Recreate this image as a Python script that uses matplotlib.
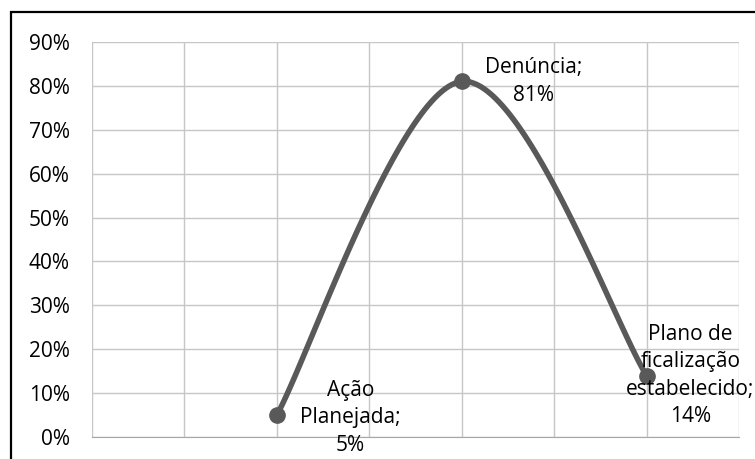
import matplotlib

matplotlib.use("Agg")
import matplotlib.pyplot as plt  # noqa: E402
import numpy as np  # noqa: E402
from matplotlib.patches import Rectangle  # noqa: E402

# dados
categorias = ["Ação\nPlanejada", "Denúncia", "Plano de\nficalização\nestabelecido"]
valores = [0.05, 0.81, 0.14]
posicoes_x = [2, 4, 6]
rotulos_y = ["0%", "10%", "20%", "30%", "40%", "50%", "60%", "70%", "80%", "90%"]

LINHA = "#595959"
GRADE = "#c6c6c6"
FONTE = "Open Sans"
TAM = 15

# deslocamento dos rotulos (pontos), so estilo
desloc = [(53, -2), (52, 0), (31.5, 0)]


def curva_suave(xs, ys, n=60):
    """Spline tipo Excel (Catmull-Rom em Bezier cubica)."""
    p = np.column_stack([xs, ys]).astype(float)
    pts = np.vstack([p[0], p, p[-1]])
    out = []
    t = np.linspace(0, 1, n)[:, None]
    for i in range(1, len(pts) - 2):
        p0, p1, p2, p3 = pts[i - 1], pts[i], pts[i + 1], pts[i + 2]
        c1 = p1 + (p2 - p0) / 6
        c2 = p2 - (p3 - p1) / 6
        seg = ((1 - t) ** 3) * p1 + 3 * ((1 - t) ** 2) * t * c1 \
            + 3 * (1 - t) * t ** 2 * c2 + t ** 3 * p2
        out.append(seg)
    return np.vstack(out)


fig = plt.figure(figsize=(7.55, 4.59), dpi=100)
fig.patch.set_facecolor("white")
ax = fig.add_axes([92 / 755, 22 / 459, 647 / 755, 395 / 459])

# borda externa do grafico
fig.patches.append(Rectangle((11 / 755, -0.1), 1.2, (459 - 12) / 459 + 0.1,
                             transform=fig.transFigure, fill=False,
                             ec="black", lw=1.6, zorder=0))

ax.set_xlim(0, 7)
ax.set_ylim(0, 0.9)
ax.set_xticks(np.arange(0, 8))
ax.set_xticklabels([])
ax.set_yticks(np.arange(len(rotulos_y)) / 10)
ax.set_yticklabels(rotulos_y, fontsize=TAM, family=FONTE, color="black")
ax.tick_params(axis="both", length=0, pad=16)
ax.grid(True, color=GRADE, lw=1.0)
ax.set_axisbelow(True)
for s in ["left", "top", "right"]:
    ax.spines[s].set_visible(False)
ax.spines["bottom"].set_color("#a6a6a6")

c = curva_suave(posicoes_x, valores)
ax.plot(c[:, 0], c[:, 1], color=LINHA, lw=4.0, solid_capstyle="round", zorder=3)
ax.plot(posicoes_x, valores, "o", color=LINHA, ms=11, zorder=4)

for x, y, nome, (dx, dy) in zip(posicoes_x, valores, categorias, desloc):
    ax.annotate(f"{nome};\n{round(y * 100)}%", (x, y), xytext=(dx, dy),
                textcoords="offset points", ha="center", va="center",
                fontsize=TAM, family=FONTE, color="black",
                linespacing=1.4, zorder=5, annotation_clip=False)

fig.savefig("out.png", dpi=100, facecolor="white")
